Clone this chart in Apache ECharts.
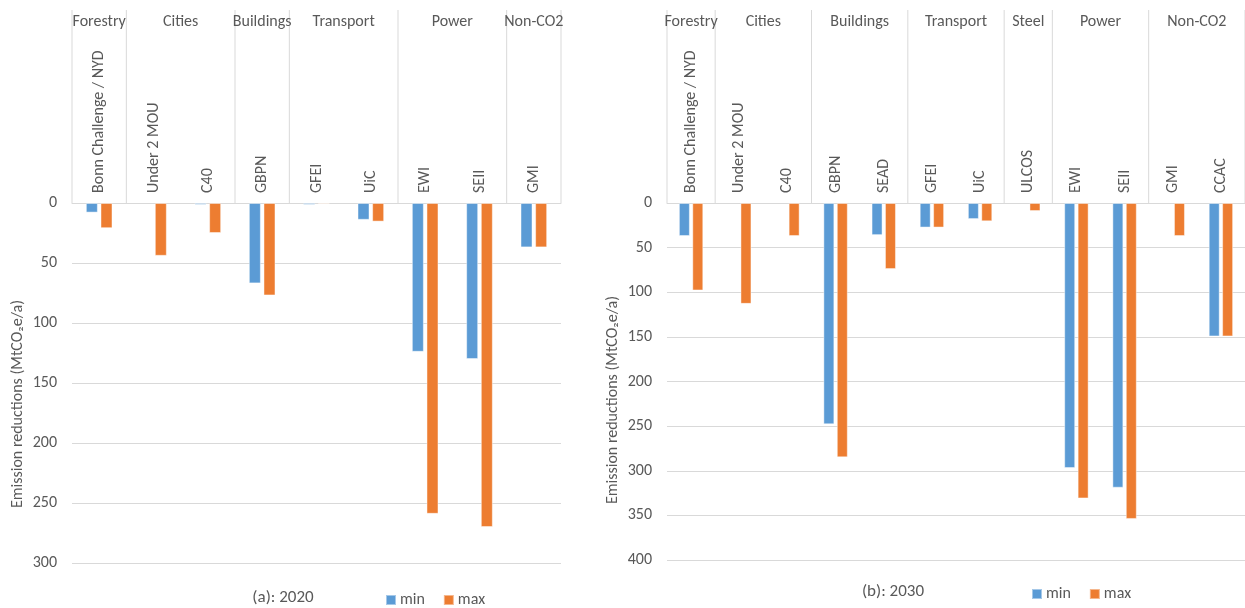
<!DOCTYPE html>
<html><head><meta charset="utf-8">
<script src="https://cdn.jsdelivr.net/npm/echarts@6/dist/echarts.min.js"></script>
<style>html,body{margin:0;padding:0;background:#fff}#c{width:1245px;height:608px}</style>
</head><body><div id="c"></div>
<script>
// ---- Panel (a): 2020 ----
const catsA = ['Bonn Challenge / NYD','Under 2 MOU','C40','GBPN','GFEI','UiC','EWI','SEII','GMI'];
const minA  = [8, null, 1.5, 67, 1.5, 14, 124, 130, 37];
const maxA  = [21, 44, 25, 77, 1, 15.5, 259, 270, 37];
const groupNamesA = ['Forestry','Cities','Buildings','Transport','Power','Non-CO2'];
const groupSizesA = [1, 2, 1, 2, 2, 1];
const ticksA = [0, 50, 100, 150, 200, 250, 300];
const titleA = '(a): 2020';

// ---- Panel (b): 2030 ----
const catsB = ['Bonn Challenge / NYD','Under 2 MOU','C40','GBPN','SEAD','GFEI','UiC','ULCOS','EWI','SEII','GMI','CCAC'];
const minB  = [37, null, null, 248, 36, 27.5, 18, null, 297, 319, null, 149.5];
const maxB  = [98, 113, 37, 285, 74, 27.5, 20.5, 9, 331, 354, 37, 149.5];
const groupNamesB = ['Forestry','Cities','Buildings','Transport','Steel','Power','Non-CO2'];
const groupSizesB = [1, 2, 2, 2, 1, 2, 2];
const ticksB = [0, 50, 100, 150, 200, 250, 300, 350, 400];
const titleB = '(b): 2030';

const seriesNames = ['min', 'max'];
const yName = 'Emission reductions (MtCO\u2082e/a)';

const FONT = 'Carlito, Lato, "Open Sans", sans-serif';
const TXT = '#595959';
const GRID = '#d9d9d9';
const BLUE = '#5b9bd5';
const ORANGE = '#ed7d31';

const chart = echarts.init(document.getElementById('c'), null, {renderer: 'canvas'});

function xAx(gi, cats) {
  return {
    type: 'category', gridIndex: gi, position: 'top', data: cats,
    axisLine: {show: true, onZero: false, lineStyle: {color: GRID, width: 1}},
    axisTick: {show: false},
    axisLabel: {rotate: -90, interval: 0, margin: 10, fontSize: 16, color: TXT, fontFamily: FONT}
  };
}
function yAx(gi, ticks) {
  return {
    type: 'value', gridIndex: gi, inverse: true,
    min: ticks[0], max: ticks[ticks.length - 1], interval: ticks[1] - ticks[0],
    axisLine: {show: false}, axisTick: {show: false},
    splitLine: {show: true, lineStyle: {color: GRID, width: 1}},
    axisLabel: {fontSize: 16, color: TXT, fontFamily: FONT, margin: 15}
  };
}
function bar(name, gi, data, color, w) {
  return {
    type: 'bar', name: name, xAxisIndex: gi, yAxisIndex: gi, data: data,
    barWidth: w, barGap: '22%',
    itemStyle: {color: color, borderColor: 'rgba(255,255,255,0.45)', borderWidth: 1},
    emphasis: {disabled: true}, animation: false
  };
}
function legend(left, top) {
  return {
    data: seriesNames, left: left, top: top, icon: 'rect', itemWidth: 10, itemHeight: 10,
    itemGap: 18, selectedMode: false,
    textStyle: {fontSize: 16, color: TXT, fontFamily: FONT, padding: [0, 0, 0, -1]}
  };
}

chart.setOption({
  animation: false,
  backgroundColor: '#fff',
  grid: [
    {left: 72, top: 203, width: 489, height: 360},
    {left: 667, top: 203, width: 581, height: 357}
  ],
  xAxis: [xAx(0, catsA), xAx(1, catsB)],
  yAxis: [yAx(0, ticksA), yAx(1, ticksB)],
  legend: [legend(380, 587), legend(1026, 581)],
  series: [
    bar(seriesNames[0], 0, minA, BLUE, 12),
    bar(seriesNames[1], 0, maxA, ORANGE, 12),
    bar(seriesNames[0], 1, minB, BLUE, 11),
    bar(seriesNames[1], 1, maxB, ORANGE, 11)
  ]
});

function groupGraphics(xi, names, sizes, topY, bottomY) {
  const els = [];
  const c0 = chart.convertToPixel({xAxisIndex: xi}, 0);
  const c1 = chart.convertToPixel({xAxisIndex: xi}, 1);
  const bw = c1 - c0;
  let start = 0;
  const boundary = i => c0 - bw / 2 + i * bw;
  els.push({type: 'line', shape: {x1: boundary(0), y1: topY, x2: boundary(0), y2: bottomY}, style: {stroke: GRID, lineWidth: 1}, silent: true});
  names.forEach((n, gi) => {
    const end = start + sizes[gi];
    const xl = boundary(start), xr = boundary(end);
    els.push({type: 'line', shape: {x1: xr, y1: topY, x2: xr, y2: bottomY}, style: {stroke: GRID, lineWidth: 1}, silent: true});
    els.push({type: 'text', x: (xl + xr) / 2, y: 22, silent: true,
      style: {text: n, fill: TXT, font: '16px ' + FONT, textAlign: 'center', textVerticalAlign: 'middle'}});
    start = end;
  });
  return els;
}

const zeroYA = chart.convertToPixel({yAxisIndex: 0}, 0);
const zeroYB = chart.convertToPixel({yAxisIndex: 1}, 0);
const g = []
  .concat(groupGraphics(0, groupNamesA, groupSizesA, 10, zeroYA))
  .concat(groupGraphics(1, groupNamesB, groupSizesB, 10, zeroYB));

g.push({type: 'text', x: 18, y: 404, rotation: Math.PI / 2, silent: true,
  style: {text: yName, fill: TXT, font: '16px ' + FONT, textAlign: 'center', textVerticalAlign: 'middle'}});
g.push({type: 'text', x: 613, y: 400, rotation: Math.PI / 2, silent: true,
  style: {text: yName, fill: TXT, font: '16px ' + FONT, textAlign: 'center', textVerticalAlign: 'middle'}});
g.push({type: 'text', x: 283, y: 598, silent: true,
  style: {text: titleA, fill: TXT, font: '17px ' + FONT, textAlign: 'center', textVerticalAlign: 'middle'}});
g.push({type: 'text', x: 893, y: 592, silent: true,
  style: {text: titleB, fill: TXT, font: '17px ' + FONT, textAlign: 'center', textVerticalAlign: 'middle'}});

chart.setOption({graphic: g});
</script>
</body></html>
